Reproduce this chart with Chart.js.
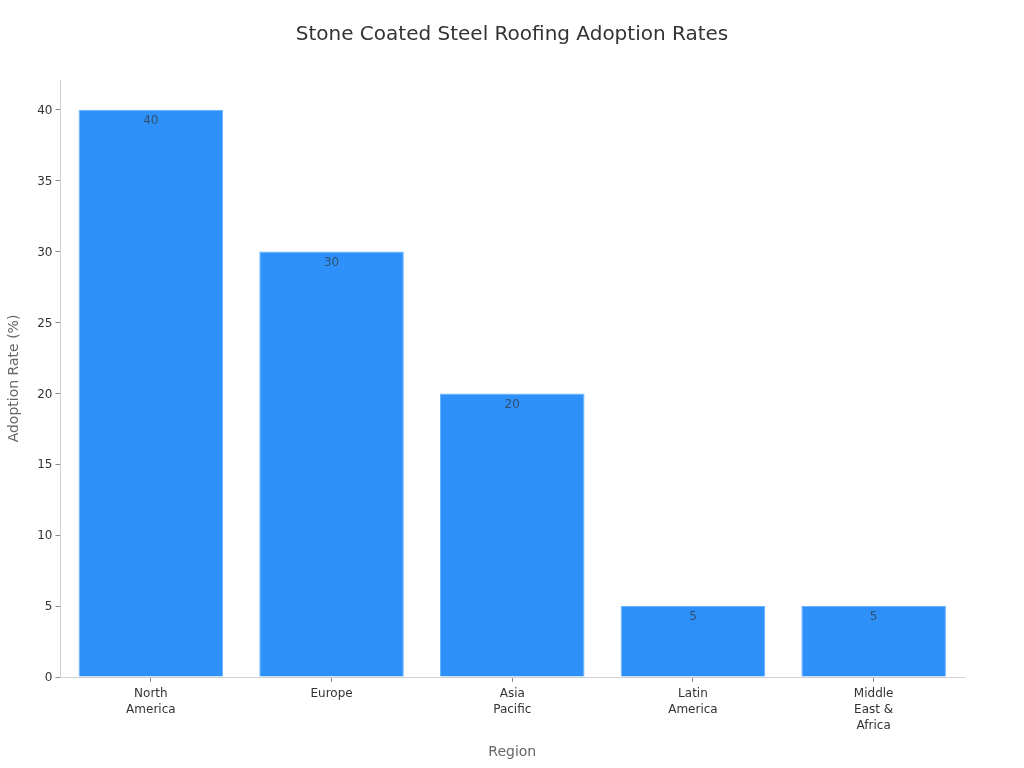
<!DOCTYPE html>
<html>
<head>
<meta charset="utf-8">
<title>Stone Coated Steel Roofing Adoption Rates</title>
<script src="https://cdn.jsdelivr.net/npm/chart.js@4"></script>
<style>
html, body { margin: 0; padding: 0; background: #fff; }
#wrap { width: 1024px; height: 768px; }
</style>
</head>
<body>
<div id="wrap"><canvas id="myChart" width="1024" height="768"></canvas></div>
<script>
var regions = [['North', 'America'], ['Europe'], ['Asia', 'Pacific'], ['Latin', 'America'], ['Middle', 'East &', 'Africa']];
var adoption = [40, 30, 20, 5, 5];
var yTickStep = 5;
var yMax = 42.1;

// values written just under the top of each bar
var barLabels = {
    id: 'barLabels',
    afterDatasetsDraw: function (chart) {
        var ctx = chart.ctx;
        var bars = chart.getDatasetMeta(0).data;
        ctx.save();
        ctx.font = '12px "DejaVu Sans"';
        ctx.fillStyle = 'rgba(51,51,51,0.7)';
        ctx.textAlign = 'center';
        ctx.textBaseline = 'middle';
        for (let i = 0; i < bars.length; i++) {
            ctx.fillText(adoption[i], bars[i].x, bars[i].y + 11);
        }
        ctx.restore();
    }
};

// y tick labels sit a touch lower in the original, level with their tick marks
var nudgeYLabels = {
    id: 'nudgeYLabels',
    beforeDraw: function (chart) {
        var items = chart.scales.y.getLabelItems();
        for (let i = 0; i < items.length; i++) {
            if (!items[i].nudged) {
                items[i].options.translation[1] += 1;
                items[i].nudged = true;
            }
        }
    }
};

var chart = new Chart(document.getElementById('myChart'), {
    type: 'bar',
    data: {
        labels: regions,
        datasets: [{
            label: 'Adoption Rate (%)',
            data: adoption,
            backgroundColor: '#2e91fa',
            borderColor: '#66b3ff',
            borderWidth: 1,
            categoryPercentage: 0.8,
            barPercentage: 1
        }]
    },
    plugins: [barLabels, nudgeYLabels],
    options: {
        responsive: false,
        maintainAspectRatio: false,
        animation: false,
        layout: { padding: { left: 0, right: 0, top: 0, bottom: 7 } },
        plugins: {
            legend: { display: false },
            tooltip: { enabled: false },
            title: {
                display: true,
                text: 'Stone Coated Steel Roofing Adoption Rates',
                color: '#333',
                font: { family: '"DejaVu Sans"', size: 20, weight: 'normal' },
                padding: { top: 23, bottom: 33 }
            }
        },
        scales: {
            x: {
                grid: { offset: false, drawOnChartArea: false, drawTicks: true, tickLength: 5, color: '#888' },
                border: { color: '#d0d0d0', width: 1 },
                ticks: {
                    color: '#333',
                    padding: 4,
                    maxRotation: 0,
                    autoSkip: false,
                    font: { family: '"DejaVu Sans"', size: 12, lineHeight: 1.33 }
                },
                title: {
                    display: true,
                    text: 'Region',
                    color: '#666',
                    font: { family: '"DejaVu Sans"', size: 14 },
                    padding: { top: 3, bottom: 0 }
                },
                afterFit: function (scale) { scale.height = 84; }
            },
            y: {
                min: 0,
                max: yMax,
                grid: { drawOnChartArea: false, drawTicks: true, tickLength: 5, color: '#888' },
                border: { color: '#d0d0d0', width: 1 },
                ticks: {
                    color: '#333',
                    padding: 3,
                    stepSize: yTickStep,
                    includeBounds: false,
                    font: { family: '"DejaVu Sans"', size: 12 }
                },
                title: {
                    display: true,
                    text: 'Adoption Rate (%)',
                    color: '#666',
                    font: { family: '"DejaVu Sans"', size: 14 },
                    padding: { top: 6, bottom: 0 }
                },
                afterFit: function (scale) { scale.width = 60.5; }
            },
            // empty axis, only keeps the plot clear of the right edge so the title stays centred
            rightGap: {
                position: 'right',
                grid: { display: false },
                border: { display: false },
                ticks: { display: false },
                afterFit: function (scale) { scale.width = 60; }
            }
        }
    }
});
</script>
</body>
</html>
